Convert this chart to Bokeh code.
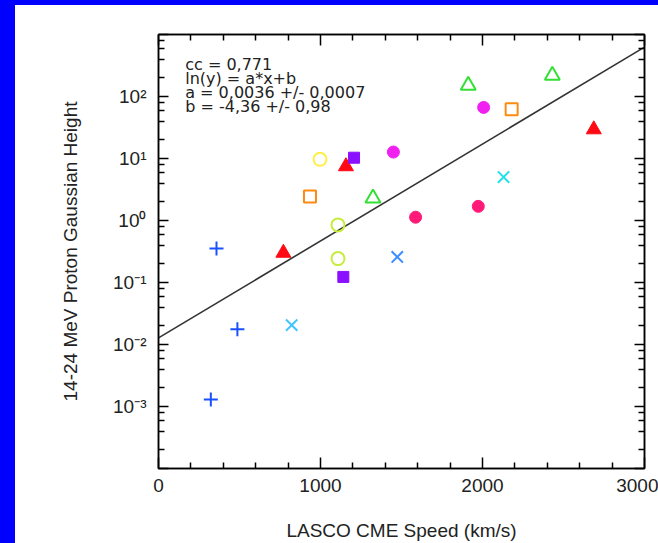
import numpy as np
from bokeh.plotting import figure
from bokeh.models import Range1d, LogAxis, LinearAxis, FixedTicker, Spacer
from bokeh.layouts import row, column
from bokeh.embed import file_html
from bokeh.resources import INLINE
from bokeh.core.properties import value

# ---------------- data ----------------
green_tri_x = [1912, 2431, 1324]
green_tri_y = [151, 218, 2.3]

magenta_circ_x = [2007, 1450]
magenta_circ_y = [66.7, 12.7]

orange_sq_x = [2180, 935]
orange_sq_y = [62, 2.43]

red_tri_x = [2687, 1157, 771]
red_tri_y = [29.4, 7.46, 0.30]

yellow_circ_x = [997]
yellow_circ_y = [9.7]

purple_sq_x = [1207, 1141]
purple_sq_y = [10.3, 0.123]

yg_circ_x = [1108, 1108]
yg_circ_y = [0.85, 0.243]

pink_circ_x = [1587, 1974]
pink_circ_y = [1.13, 1.69]

cyan_x_x = [2130]
cyan_x_y = [5.02]

blue_x_x = [1474]
blue_x_y = [0.258]

lightblue_x_x = [822]
lightblue_x_y = [0.0205]

blue_plus_x = [358, 487, 323]
blue_plus_y = [0.352, 0.0177, 0.0013]

# fit ln(y) = a*x + b
fit_a = 0.0036
fit_b = -4.36
fit_x = [0, 3000]

annotation_lines = ["cc = 0,771", "ln(y) = a*x+b", "a = 0,0036 +/- 0,0007", "b = -4,36 +/- 0,98"]

x_ticks = [0, 1000, 2000, 3000]
x_tick_labels = ["0", "1000", "2000", "3000"]
x_minor = [200, 400, 600, 800, 1200, 1400, 1600, 1800, 2200, 2400, 2600, 2800]

y_ticks = [1e-4, 1e-3, 1e-2, 1e-1, 1e0, 1e1, 1e2, 1e3]
y_tick_labels = ["", "10\u207b\u00b3", "10\u207b\u00b2", "10\u207b\u00b9", "10\u2070", "10\u00b9", "10\u00b2", ""]
y_minor = [m * 10.0 ** k for k in range(-4, 3) for m in (2, 4, 6, 8)]

x_title = "LASCO CME Speed (km/s)"
y_title = "14-24 MeV Proton Gaussian Height"

# ---------------- figure ----------------
FONT = "Liberation Sans"
TXT = "#222222"

p = figure(width=643, height=538, x_range=Range1d(0, 3000), y_range=Range1d(1e-4, 1e3),
           y_axis_type="log", output_backend="svg", toolbar_location=None,
           min_border_left=143, min_border_right=14, min_border_top=29, min_border_bottom=75,
           background_fill_color="white", border_fill_color="white")
p.xgrid.visible = False
p.ygrid.visible = False
p.outline_line_color = "black"
p.outline_line_width = 1.5


def style_axis(ax, ticks, minor, labels, show_labels, major_len, minor_len):
    ax.ticker = FixedTicker(ticks=ticks, minor_ticks=minor)
    ax.axis_line_color = "black"
    ax.axis_line_width = 1.5
    ax.major_tick_line_color = "black"
    ax.major_tick_line_width = 1.5
    ax.minor_tick_line_color = "black"
    ax.minor_tick_line_width = 1.5
    ax.major_tick_in = major_len
    ax.major_tick_out = 0
    ax.minor_tick_in = minor_len
    ax.minor_tick_out = 0
    if show_labels:
        ax.major_label_overrides = {t: l for t, l in zip(ticks, labels)}
        ax.major_label_text_font = FONT
        ax.major_label_text_font_size = "19px"
        ax.major_label_text_color = TXT
    else:
        ax.major_label_overrides = {t: "" for t in ticks}
        ax.major_label_text_font_size = "1px"
        ax.major_label_standoff = 0


xa = p.xaxis[0]
style_axis(xa, x_ticks, x_minor, x_tick_labels, True, 11, 6)
xa.major_label_standoff = 10
xa.axis_label = x_title
xa.axis_label_text_font = FONT
xa.axis_label_text_font_size = "19px"
xa.axis_label_text_font_style = "normal"
xa.axis_label_text_color = TXT
xa.axis_label_standoff = 25

ya = p.yaxis[0]
style_axis(ya, y_ticks, y_minor, y_tick_labels, True, 10, 6)
ya.major_label_standoff = 12
ya.axis_label = y_title
ya.axis_label_text_font = FONT
ya.axis_label_text_font_size = "19px"
ya.axis_label_text_font_style = "normal"
ya.axis_label_text_color = TXT
ya.axis_label_standoff = 29

top = LinearAxis()
style_axis(top, x_ticks, x_minor, x_tick_labels, False, 11, 6)
p.add_layout(top, "above")

right = LogAxis()
style_axis(right, y_ticks, y_minor, y_tick_labels, False, 10, 6)
p.add_layout(right, "right")

# fit line
fx = np.array(fit_x, dtype=float)
fy = np.exp(fit_a * fx + fit_b)
p.line(fx, fy, line_color="#333333", line_width=1.6)

# markers
LW = 2
p.scatter(green_tri_x, green_tri_y, marker="triangle", size=15, fill_color=None, line_color="#33e033", line_width=LW)
p.scatter(magenta_circ_x, magenta_circ_y, marker="circle", size=12, fill_color="#f020f0", line_color="#f020f0")
p.scatter(orange_sq_x, orange_sq_y, marker="square", size=12, fill_color=None, line_color="#ff8a10", line_width=LW)
p.scatter(red_tri_x, red_tri_y, marker="triangle", size=15, fill_color="#ff0a14", line_color="#ff0a14")
p.scatter(yellow_circ_x, yellow_circ_y, marker="circle", size=13, fill_color=None, line_color="#ffee44", line_width=LW)
p.scatter(purple_sq_x, purple_sq_y, marker="square", size=11, fill_color="#8a10ff", line_color="#8a10ff")
p.scatter(yg_circ_x, yg_circ_y, marker="circle", size=13, fill_color=None, line_color="#c8ec3c", line_width=LW)
p.scatter(pink_circ_x, pink_circ_y, marker="circle", size=12, fill_color="#ff1a78", line_color="#ff1a78")
p.scatter(cyan_x_x, cyan_x_y, marker="x", size=16, line_color="#20e0e8", line_width=LW)
p.scatter(blue_x_x, blue_x_y, marker="x", size=16, line_color="#3a8cff", line_width=LW)
p.scatter(lightblue_x_x, lightblue_x_y, marker="x", size=16, line_color="#44c4ff", line_width=LW)
p.scatter(blue_plus_x, blue_plus_y, marker="cross", size=14, line_color="#1a50ff", line_width=LW)

# annotation text
p.text(x=[165], y=[470], text=["\n".join(annotation_lines)], text_font=value("DejaVu Sans"),
       text_font_size="16px", text_line_height=0.74, text_baseline="top", text_align="left",
       text_color=TXT)

blue = {"background-color": "#0000ff"}
left_strip = Spacer(width=15, height=543, styles=blue)
top_strip = Spacer(width=643, height=5, styles=blue)
layout = row(left_strip, column(top_strip, p, spacing=0), spacing=0)

open("out.html", "w").write(file_html(layout, INLINE))
